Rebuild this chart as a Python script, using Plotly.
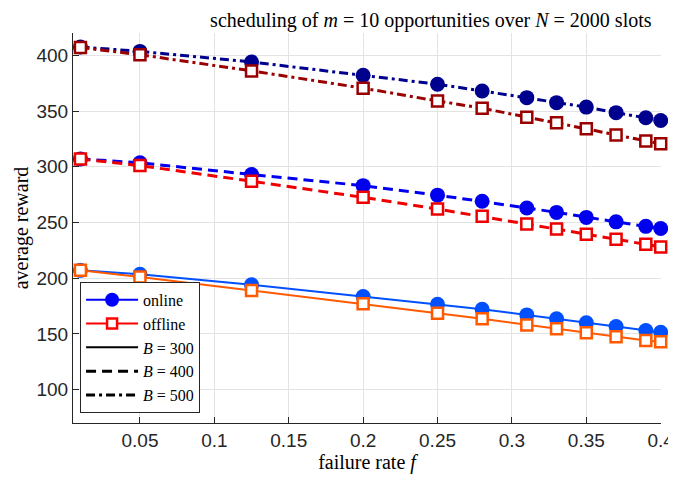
import plotly.graph_objects as go

f = [0.01, 0.05, 0.125, 0.2, 0.25, 0.28, 0.31, 0.33, 0.35, 0.37, 0.39, 0.4]

online_300 = [207, 203.5, 194, 183.5, 176.5, 172, 167, 163.5, 160, 156.5, 153, 151.5]
offline_300 = [207, 201, 189, 177, 168.5, 163.5, 158, 154.5, 151, 147.5, 144, 143]
online_400 = [307, 303.5, 293, 283, 274.5, 269, 263, 259, 254.5, 250.5, 246.5, 244.5]
offline_400 = [307, 301, 287, 272.5, 262, 255.5, 248.5, 244, 239.5, 235, 230.5, 228]
online_500 = [407.5, 403.5, 394, 382, 374, 368, 362, 357.5, 353.5, 348.5, 344, 341.5]
offline_500 = [407, 400.5, 386, 370.5, 359, 352.5, 344.5, 339.5, 334, 328.5, 323, 320.5]

x_ticks = [0.05, 0.1, 0.15, 0.2, 0.25, 0.3, 0.35, 0.4]
y_ticks = [100, 150, 200, 250, 300, 350, 400]

SERIF = "Liberation Serif, DejaVu Serif, serif"
SANS = "Liberation Sans, Arial, sans-serif"

DASH = "10px,6px"
DASHDOT = "9px,4px,3px,4px"

series = [
    (online_300, "online", "#0050ff", "solid"),
    (offline_300, "offline", "#ff5a00", "solid"),
    (online_400, "online", "#0000ee", DASH),
    (offline_400, "offline", "#ee0000", DASH),
    (online_500, "online", "#00008e", DASHDOT),
    (offline_500, "offline", "#9a0000", DASHDOT),
]

fig = go.Figure()
for vals, kind, color, dash in series:
    if kind == "online":
        marker = dict(symbol="circle", size=15, color=color, line=dict(width=0))
    else:
        marker = dict(symbol="square", size=11, color="white", line=dict(width=2.5, color=color))
    fig.add_trace(go.Scatter(
        x=f, y=vals, mode="lines+markers", cliponaxis=False,
        line=dict(color=color, width=3 if dash != "solid" else 2, dash=dash),
        marker=marker, showlegend=False, hoverinfo="skip"))

# legend-only entries
fig.add_trace(go.Scatter(x=[None], y=[None], mode="lines+markers", name="online",
                         line=dict(color="#0000ff", width=2),
                         marker=dict(symbol="circle", size=14, color="#0000ff")))
fig.add_trace(go.Scatter(x=[None], y=[None], mode="lines+markers", name="offline",
                         line=dict(color="#ff0000", width=2),
                         marker=dict(symbol="square", size=10, color="white",
                                     line=dict(width=2.5, color="#ff0000"))))
fig.add_trace(go.Scatter(x=[None], y=[None], mode="lines", name="<i>B</i> = 300",
                         line=dict(color="black", width=2)))
fig.add_trace(go.Scatter(x=[None], y=[None], mode="lines", name="<i>B</i> = 400",
                         line=dict(color="black", width=3, dash=DASH)))
fig.add_trace(go.Scatter(x=[None], y=[None], mode="lines", name="<i>B</i> = 500",
                         line=dict(color="black", width=3, dash=DASHDOT)))

# page body has an 8px margin, so the figure is 8px smaller and margins shifted
fig.update_layout(
    width=668, height=470,
    margin=dict(l=65, r=15, t=25, b=55),
    paper_bgcolor="white", plot_bgcolor="white",
    title=dict(text="scheduling of <i>m</i> = 10 opportunities over <i>N</i> = 2000 slots",
               x=0.633, xanchor="center", y=0.974, yanchor="middle",
               font=dict(family=SERIF, size=20, color="black")),
    legend=dict(x=0.012, y=0.026, xanchor="left", yanchor="bottom",
                bgcolor="white", bordercolor="#262626", borderwidth=1,
                font=dict(family=SERIF, size=16, color="black"),
                tracegroupgap=0, itemwidth=52),
    showlegend=True,
)
fig.update_xaxes(
    range=[0.005, 0.4002], tickvals=x_ticks, ticktext=[str(v) for v in x_ticks],
    showgrid=True, gridcolor="#e3e3e3", gridwidth=1,
    showline=True, linecolor="#262626", linewidth=1,
    ticks="inside", ticklen=6, tickcolor="#262626",
    tickfont=dict(family=SANS, size=19, color="#262626"),
    ticklabeloverflow="allow",
    zeroline=False, automargin=False,
    title=dict(text="failure rate <i>f</i>", font=dict(family=SERIF, size=20, color="black"), standoff=5),
)
fig.update_yaxes(
    range=[70, 420], tickvals=y_ticks,
    showgrid=True, gridcolor="#e3e3e3", gridwidth=1,
    showline=True, linecolor="#262626", linewidth=1,
    ticks="inside", ticklen=6, tickcolor="#262626",
    tickfont=dict(family=SANS, size=19, color="#262626"),
    zeroline=False, automargin=False,
    title=dict(text="average reward", font=dict(family=SERIF, size=20, color="black"), standoff=2),
)

fig.write_html("out.html")
